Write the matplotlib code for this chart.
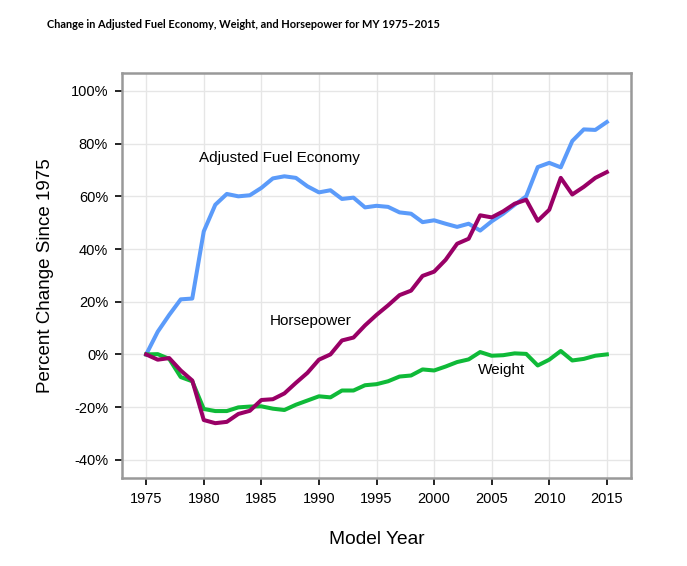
import matplotlib
matplotlib.use("Agg")
import matplotlib.pyplot as plt
from matplotlib.ticker import FuncFormatter
import numpy as np

plt.rcParams['font.family'] = ['Liberation Sans', 'DejaVu Sans']

years = np.arange(1975, 2016)

fuel_economy = [0, 8.6, 15.0, 20.9, 21.2, 46.7, 56.8, 60.9, 60.0, 60.4,
                63.2, 66.8, 67.6, 67.0, 63.8, 61.5, 62.3, 59.0, 59.5, 55.8,
                56.4, 56.0, 53.9, 53.4, 50.2, 50.9, 49.6, 48.4, 49.6, 47.0,
                50.5, 53.4, 56.8, 60.0, 71.1, 72.7, 71.0, 81.0, 85.4, 85.2,
                88.2]
horsepower = [0, -2.0, -1.4, -6.1, -9.9, -24.9, -26.1, -25.6, -22.6, -21.4,
              -17.3, -17.0, -14.8, -10.8, -7.0, -2.0, 0.0, 5.3, 6.4, 11.0,
              15.0, 18.6, 22.5, 24.2, 29.8, 31.4, 35.9, 42.0, 43.9, 52.8,
              52.0, 54.3, 57.2, 58.7, 50.7, 54.9, 67.0, 60.7, 63.6, 67.0,
              69.2]
weight = [0, 0.1, -1.7, -8.6, -10.2, -20.7, -21.5, -21.5, -20.1, -19.8,
          -19.7, -20.6, -21.1, -19.1, -17.5, -15.9, -16.3, -13.7, -13.7, -11.7,
          -11.3, -10.2, -8.4, -8.0, -5.7, -6.1, -4.6, -2.9, -1.9, 0.9,
          -0.5, -0.3, 0.4, 0.2, -4.2, -2.0, 1.3, -2.3, -1.7, -0.5,
          0.0]

x_ticks = list(range(1975, 2020, 5))
y_ticks = list(range(-40, 120, 20))

fig = plt.figure(figsize=(6.87, 5.66), dpi=100)
ax = fig.add_axes([0.1776, 0.1555, 0.7409, 0.7155])

ax.plot(years, fuel_economy, color="#5b9bfa", lw=2.9, solid_joinstyle="round", zorder=3)
ax.plot(years, weight, color="#0fba38", lw=2.9, solid_joinstyle="round", zorder=3)
ax.plot(years, horsepower, color="#990066", lw=2.9, solid_joinstyle="round", zorder=4)

# line labels
ax.text(1979.6, 74.4, "Adjusted Fuel Economy", fontsize=11, va="center", ha="left")
ax.text(1985.7, 12.6, "Horsepower", fontsize=11, va="center", ha="left")
ax.text(2003.8, -6.1, "Weight", fontsize=11, va="center", ha="left")

ax.set_xlim(1972.9, 2017.1)
ax.set_ylim(-46.9, 106.8)
ax.set_xticks(x_ticks)
ax.set_yticks(y_ticks)
ax.yaxis.set_major_formatter(FuncFormatter(lambda v, p: "{:d}%".format(int(v))))
ax.grid(True, color="#e6e6e6", lw=1.0, zorder=0)
ax.set_axisbelow(True)
ax.tick_params(axis="both", direction="out", length=5, width=1.2, color="black",
               labelsize=10.5, pad=5)
for s in ax.spines.values():
    s.set_color("#999999")
    s.set_linewidth(1.8)

ax.set_xlabel("Model Year", fontsize=13.8, labelpad=18)
ax.set_ylabel("Percent Change Since 1975", fontsize=13.5, labelpad=12)

fig.text(0.0684, 0.956, "Change in Adjusted Fuel Economy, Weight, and Horsepower for MY 1975\u20132015",
         fontsize=7.9, fontweight="bold", family=["Lato", "DejaVu Sans"],
         ha="left", va="center")

fig.savefig("out.png", dpi=100)
